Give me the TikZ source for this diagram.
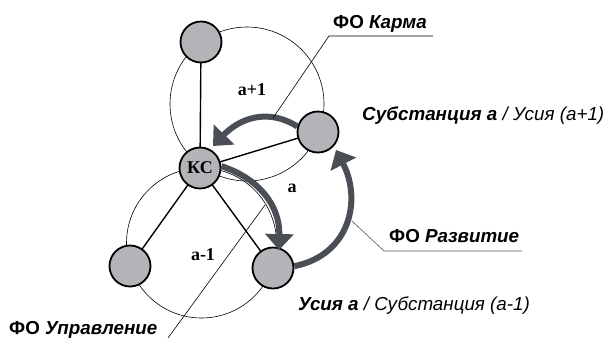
\documentclass[tikz,border=0pt]{standalone}
\usepackage{fontspec}
\setmainfont{Liberation Sans}
\newfontfamily\serifface{Liberation Serif}
\usetikzlibrary{arrows.meta}
\definecolor{ballgray}{HTML}{B3B4B7}
\definecolor{arrgray}{HTML}{4A4F55}
\definecolor{leadgray}{HTML}{555555}
\tikzset{
  ball/.style={circle, draw=black, line width=1.8pt, fill=ballgray, minimum size=41pt, inner sep=0pt, font=\serifface\bfseries\fontsize{18}{18}\selectfont},
  ring/.style={draw=black, line width=0.6pt},
  spoke/.style={draw=black, line width=1.4pt},
  fo/.style={line width=6pt, draw=arrgray, -{Triangle[width=28pt,length=16pt]}},
  leader/.style={draw=black, line width=0.6pt},
  lbl/.style={font=\fontsize{18.8}{20}\selectfont, inner sep=0pt},
  num/.style={font=\serifface\bfseries\fontsize{18}{18}\selectfont, inner sep=0pt}
}
\begin{document}
\begin{tikzpicture}[x=1pt,y=-1pt]
\useasboundingbox (0,0) rectangle (610,338);
% rings
\draw[ring] (247,104) circle[radius=77pt];
\draw[ring] (201.5,243) circle[radius=75pt];
% coordinates of balls
\coordinate (ptop) at (201,42);
\coordinate (pks) at (200,168);
\coordinate (pright) at (318,132);
\coordinate (pll) at (130,266);
\coordinate (plr) at (273,268);
% spokes
\draw[spoke] (pks) -- (ptop);
\draw[spoke] (pks) -- (pright);
\draw[spoke] (pks) -- (pll);
\draw[spoke] (pks) -- (plr);
% balls
\node[ball] (top) at (ptop) {};
\node[ball] (ks) at (pks) {КС};
\node[ball] (right) at (pright) {};
\node[ball] (ll) at (pll) {};
\node[ball] (lr) at (plr) {};
% numbers
\node[num] (n1) at (252,90) {а+1};
\node[num] (n2) at (292,188) {а};
\node[num] (n3) at (203,255) {а-1};
% thick arrows
\draw[fo] (right.165) .. controls (268,108) and (240,118) .. (213,146);
\draw[fo] (ks.5) .. controls (258,178) and (280,205) .. (279,250);
\draw[fo] (lr.5) .. controls (350,255) and (362,200) .. (336,150);
% labels
\node[lbl, anchor=base west] (karma) at (333,28) {\textbf{ФО \textit{Карма}}};
\node[lbl, anchor=base west] (subst) at (362,120) {\textbf{\textit{Субстанция а}} \textit{/ Усия (а+1)}};
\node[lbl, anchor=base west] (razv) at (389,242) {\textbf{ФО \textit{Развитие}}};
\node[lbl, anchor=base west] (usia) at (298,310) {\textbf{\textit{Усия а}} \textit{/ Субстанция (а-1)}};
\node[lbl, anchor=base west] (upr) at (9,334) {\textbf{ФО \textit{Управление}}};
% leaders
\coordinate (k1) at (273,118);
\coordinate (k2) at (329,36);
\coordinate (k3) at (433,36);
\draw[leader] (k1) -- (k2) -- (k3);
\coordinate (r1) at (352,221);
\coordinate (r2) at (384,251);
\coordinate (r3) at (522,251);
\draw[leader, draw=leadgray] (r1) -- (r2) -- (r3);
\coordinate (u1) at (265,205);
\coordinate (u2) at (168,338);
\draw[leader] (u1) -- (u2);
\end{tikzpicture}
\end{document}
